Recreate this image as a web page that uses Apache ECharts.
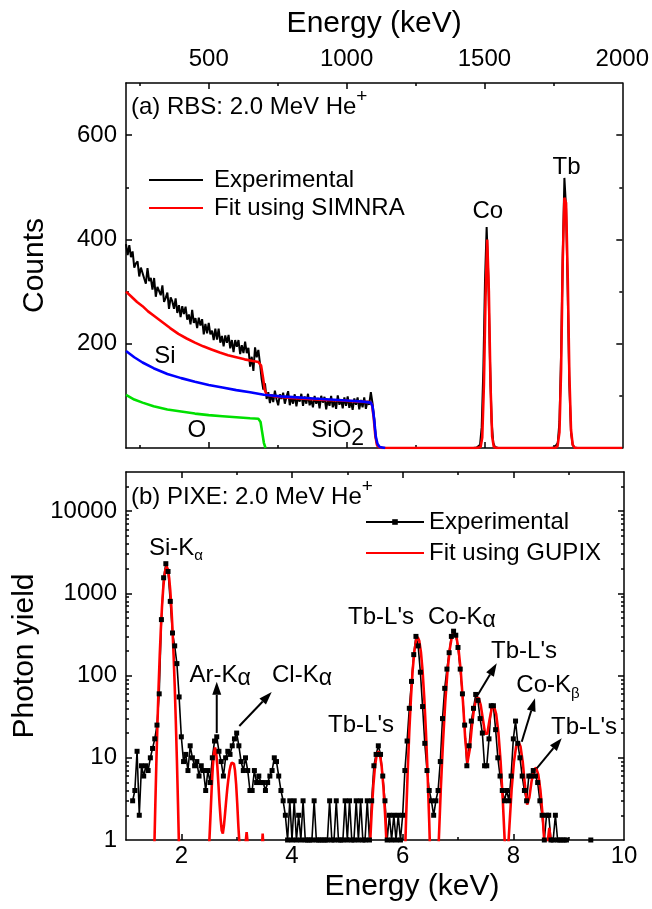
<!DOCTYPE html>
<html>
<head>
<meta charset="utf-8">
<script src="https://cdn.jsdelivr.net/npm/echarts@6.0.0/dist/echarts.min.js"></script>
<style>
  html, body { margin: 0; padding: 0; background: #fff; }
  #chart { width: 652px; height: 909px; }
</style>
</head>
<body>
<div id="chart"></div>
<script>
// ---------- RBS spectrum (2.0 MeV He+) ----------
// Experimental counts, one value per 6 keV step starting at 200 keV
const rbsStart = 200;
const rbsStep = 6;
const rbsCounts = [
  391,370,389,366,377,346,354,358,329,346,
  349,325,315,345,320,326,304,326,290,309,
  312,293,312,280,288,298,267,289,281,267,
  287,259,274,251,272,257,271,246,256,237,
  265,240,249,230,250,235,247,218,238,220,
  240,218,225,207,229,208,229,202,215,195,
  216,202,217,191,207,184,207,194,207,180,
  197,182,204,182,192,156,175,148,193,174,
  188,162,132,112,124,94,107,86,103,88,
  110,93,82,103,94,106,85,98,109,82,
  98,85,103,80,98,89,104,81,99,85,
  104,82,92,78,100,85,96,76,100,87,
  98,74,93,81,100,78,91,75,101,83,
  93,76,97,81,99,77,90,73,95,83,
  97,74,92,78,97,75,90,83,107,86,
  58,18,4,1,0,0,
  0,0,0,0,0,0,0,0,
  0,0,0,0,0,0,0,0,
  0,0,0,0,0,0,0,0,
  0,0,0,0,0,0,0,0,
  0,0,0,0,0,0,0,0,
  0,0,0,0,0,0,0,0,
  0,0,0,0,0,0,0,0,
  1,2,6,40,150,320,424,330,170,50,10,2,
  0,0,0,0,0,0,0,0,
  0,0,0,0,0,0,0,0,
  0,0,0,0,0,0,0,0,
  0,0,0,0,0,0,0,0,
  0,0,0,
  1,3,10,50,180,370,518,460,300,120,30,6,1,
  0,0,0,0,0,0,0,0,
  0,0,0,0,0,0,0,0,
  0,0,0,0,0,0,0,0,
  0,0,0,0,0
];
// SIMNRA total fit [energy keV, counts]
const rbsFit = [
  [200,300],[220,290],[240,280],[260,272],[280,262],[300,254],[330,242],[360,230],
  [390,219],[420,210],[450,202],[480,195],[510,189],[540,183],[570,178],[600,174],
  [630,170],[660,167],[680,165],[690,158],[697,135],[703,112],[710,102],[740,99],
  [800,96],[860,94],[920,92],[980,91],[1040,89],[1085,88],[1092,84],[1098,60],
  [1104,25],[1110,6],[1118,1],[1130,0],[1470,0],[1486,2],[1492,20],[1498,120],
  [1504,290],[1510,400],[1516,300],[1522,120],[1528,22],[1534,2],[1545,0],[1755,0],
  [1765,3],[1772,30],[1778,150],[1784,360],[1790,480],[1796,470],[1802,330],[1808,140],
  [1814,35],[1820,6],[1828,0],[2000,0]
];
// Si partial spectrum [energy keV, counts]
const rbsSi = [
  [200,186],[230,174],[260,164],[300,153],[350,142],[400,134],[450,127],[500,121],
  [550,116],[600,111],[650,107],[700,102],[760,99],[820,97],[880,95],[940,93],
  [1000,91],[1060,89],[1088,87],[1094,80],[1100,55],[1106,22],[1112,8],[1120,2],[1140,0]
];
// O partial spectrum [energy keV, counts]
const rbsO = [
  [200,102],[230,93],[260,87],[300,80],[350,74],[400,70],[450,66],[500,63],
  [550,61],[600,59],[650,57],[680,56],[688,50],[694,30],[700,10],[706,0]
];

// ---------- PIXE spectrum ----------
// Experimental photon yield, one value per 0.04 keV step starting at 1.12 keV
const pixeStart = 1.12;
const pixeStep = 0.04;
const pixeYield = [
  3,4,12,2,8,6,8,7,10,13,
  17,25,60,480,1550,2300,1850,800,330,230,
  140,55,18,9,11,7,14,10,8,9,
  6,8,7,4,7,5,10,16,18,12,
  9,6,10,12,11,14,17,20,14,9,
  7,10,7,4,4,7,5,6,5,5,
  4,5,6,7,10,9,6,4,3,2,
  1,3,1,3,1,2,1,3,1,1,
  1,1,3,1,1,1,1,1,1,3,
  1,1,3,1,1,1,3,1,3,1,
  1,3,1,3,1,1,3,1,3,8,
  11,14,11,6,3,1,2,1,2,1,
  2,1,2,7,16,40,85,180,300,230,
  110,42,15,7,4,3,2,3,4,9,
  30,70,120,190,300,347,310,220,120,60,
  25,8,14,28,40,59,50,30,20,8,
  8,17,43,43,22,10,6,4,3,4,
  3,6,17,28,15,10,6,4,3,6,
  6,7,6,5,3,2,1,2,2,1,
  1,2,1,1,1,1,1,null,null,null,
  null,null,null,null,null,null,null,1
];
// GUPIX fit [energy keV, photon yield]
const pixeFit = [
  [1.46,0.2],[1.51,0.7],[1.53,2.7],[1.55,9.4],[1.57,28],[1.59,76],[1.61,179],[1.63,371],
  [1.65,678],[1.67,1091],[1.69,1546],[1.71,1930],[1.735,2130],[1.76,1930],[1.78,1546],
  [1.80,1091],[1.82,678],[1.84,371],[1.86,179],[1.88,76],[1.90,28],[1.92,9.4],[1.94,2.7],
  [1.96,0.7],[2.00,0.2],
  [2.46,0.2],[2.49,0.6],[2.51,1.1],[2.53,2.2],[2.55,4.5],[2.57,8],[2.59,11.5],[2.61,13.3],
  [2.63,11.5],[2.65,8],[2.67,4.8],[2.69,2.8],[2.71,1.8],[2.73,1.3],[2.75,1.2],[2.77,1.5],
  [2.79,2.1],[2.81,3],[2.83,4.2],[2.85,5.5],[2.87,6.9],[2.89,8],[2.91,8.7],[2.93,8.9],
  [2.95,8.5],[2.97,7],[2.99,4.8],[3.01,2.8],[3.03,1.5],[3.05,0.9],[3.08,0.5],[3.13,0.5],
  [3.16,0.9],[3.18,1.25],[3.20,0.9],[3.24,0.5],[3.44,0.5],[3.47,1.2],[3.50,0.5],[3.60,0.2],
  [5.30,0.2],[5.38,0.27],[5.41,0.86],[5.44,2.2],[5.47,4.6],[5.50,7.9],[5.53,10.9],[5.56,12],
  [5.59,10.9],[5.62,7.9],[5.65,4.6],[5.68,2.2],[5.71,0.86],[5.74,0.27],[5.90,0.1],
  [6.03,0.34],[6.06,1.66],[6.09,6.6],[6.12,21],[6.15,54],[6.18,114],[6.21,193],[6.24,265],
  [6.27,295],[6.30,265],[6.33,193],[6.36,114],[6.39,54],[6.42,21],[6.45,6.6],[6.48,1.66],
  [6.51,0.34],[6.56,0.1],
  [6.61,0.14],[6.65,0.88],[6.69,4.3],[6.73,16],[6.77,48],[6.81,113],[6.85,208],[6.89,300],
  [6.93,339],[6.97,300],[7.01,208],[7.05,113],[7.09,48],[7.13,17.3],[7.17,8.7],[7.21,12.4],
  [7.25,24],[7.29,40],[7.33,52],[7.37,54],[7.41,44],[7.45,29.4],[7.49,19.6],[7.53,19.7],
  [7.57,29],[7.61,39.8],[7.65,42.6],[7.69,34],[7.73,20.2],[7.77,9],[7.81,3],[7.85,0.8],
  [7.89,0.53],[7.93,1.5],[7.97,4.2],[8.01,8.8],[8.05,13.7],[8.09,15.8],[8.13,13.7],[8.17,8.9],
  [8.21,4.6],[8.25,2.7],[8.29,3.3],[8.33,5.2],[8.37,7.1],[8.41,7.6],[8.45,6.3],[8.49,4],
  [8.53,1.95],[8.57,0.74],[8.61,0.8],[8.65,1.4],[8.69,0.8],[8.73,0.2]
];

// ---------- axis ticks and labels ----------
const rbsMajorTicks = [500, 1000, 1500];
const rbsMinorTicks = [250, 750, 1250, 1750];
const rbsEnergyLabels = [500, 1000, 1500, 2000];
const countMajorTicks = [200, 400, 600];
const countMinorTicks = [100, 300, 500];
const countLabels = [200, 400, 600];
const pixeMajorTicks = [2, 4, 6, 8];
const pixeMinorTicks = [3, 5, 7, 9];
const pixeEnergyLabels = [2, 4, 6, 8, 10];
const yieldMajorTicks = [10, 100, 1000, 10000];
const yieldMinorTicks = [2,3,4,5,6,7,8,9, 20,30,40,50,60,70,80,90,
  200,300,400,500,600,700,800,900, 2000,3000,4000,5000,6000,7000,8000,9000, 20000];
const yieldLabels = [1, 10, 100, 1000, 10000];

const legendText = {
  rbsExp: 'Experimental', rbsFit: 'Fit using SIMNRA',
  pixeExp: 'Experimental', pixeFit: 'Fit using GUPIX'
};

// ---------- styling ----------
const FONT = "'Liberation Sans', Arial, Helvetica, sans-serif";
const TICK_FS = 24, TITLE_FS = 30, NOTE_FS = 24;
const INK = '#000';
const frameLine = { color: INK, width: 1.5 };

function axis(opts) {
  return Object.assign({
    type: 'value',
    splitLine: { show: false },
    axisLine: { show: false, onZero: false },
    axisLabel: { show: false },
    axisTick: { show: false }
  }, opts);
}
function ticks(values, len) {
  return { show: true, inside: true, length: len, customValues: values, lineStyle: { color: INK, width: 1.5 } };
}
function labels(values, margin) {
  return {
    show: true, customValues: values, margin: margin,
    fontSize: TICK_FS, fontFamily: FONT, color: INK,
    formatter: v => String(Math.round(v))
  };
}
const lineOn = { show: true, onZero: false, lineStyle: frameLine };
const titleStyle = { fontSize: TITLE_FS, fontFamily: FONT, color: INK };

const xAxis = [
  // top panel: energy scale (keV)
  axis({ gridIndex: 0, position: 'bottom', min: 200, max: 2000, axisLine: lineOn, axisTick: ticks(rbsMajorTicks, 6) }),
  axis({ gridIndex: 0, position: 'bottom', min: 200, max: 2000, axisTick: ticks(rbsMinorTicks, 3) }),
  axis({ gridIndex: 0, position: 'top', min: 200, max: 2000, axisLine: lineOn, axisTick: ticks(rbsMajorTicks, 6),
         axisLabel: labels(rbsEnergyLabels, 12),
         name: 'Energy (keV)', nameLocation: 'middle', nameGap: 44, nameTextStyle: titleStyle }),
  axis({ gridIndex: 0, position: 'top', min: 200, max: 2000, axisTick: ticks(rbsMinorTicks, 3) }),
  // bottom panel: X-ray energy (keV)
  axis({ gridIndex: 1, position: 'bottom', min: 1, max: 10, axisLine: lineOn, axisTick: ticks(pixeMajorTicks, 6),
         axisLabel: labels(pixeEnergyLabels, 4),
         name: 'Energy (keV)', nameLocation: 'middle', nameGap: 32,
         nameTextStyle: Object.assign({ padding: [0, 0, 0, 74] }, titleStyle) }),
  axis({ gridIndex: 1, position: 'bottom', min: 1, max: 10, axisTick: ticks(pixeMinorTicks, 3) }),
  axis({ gridIndex: 1, position: 'top', min: 1, max: 10, axisLine: lineOn, axisTick: ticks(pixeMajorTicks, 6) }),
  axis({ gridIndex: 1, position: 'top', min: 1, max: 10, axisTick: ticks(pixeMinorTicks, 3) })
];

const yAxis = [
  axis({ gridIndex: 0, position: 'left', min: 0, max: 700, axisLine: lineOn, axisTick: ticks(countMajorTicks, 6),
         axisLabel: labels(countLabels, 9),
         name: 'Counts', nameLocation: 'middle', nameGap: 76, nameTextStyle: titleStyle }),
  axis({ gridIndex: 0, position: 'left', min: 0, max: 700, axisTick: ticks(countMinorTicks, 3) }),
  axis({ gridIndex: 0, position: 'right', min: 0, max: 700, axisLine: lineOn, axisTick: ticks(countMajorTicks, 6) }),
  axis({ gridIndex: 0, position: 'right', min: 0, max: 700, axisTick: ticks(countMinorTicks, 3) }),
  axis({ gridIndex: 1, type: 'log', logBase: 10, position: 'left', min: 1, max: 30000, axisLine: lineOn,
         axisTick: ticks(yieldMajorTicks, 6), axisLabel: labels(yieldLabels, 9),
         name: 'Photon yield', nameLocation: 'middle', nameGap: 76, nameTextStyle: titleStyle }),
  axis({ gridIndex: 1, type: 'log', logBase: 10, position: 'left', min: 1, max: 30000, axisTick: ticks(yieldMinorTicks, 3) }),
  axis({ gridIndex: 1, type: 'log', logBase: 10, position: 'right', min: 1, max: 30000, axisLine: lineOn, axisTick: ticks(yieldMajorTicks, 6) }),
  axis({ gridIndex: 1, type: 'log', logBase: 10, position: 'right', min: 1, max: 30000, axisTick: ticks(yieldMinorTicks, 3) })
];

const RED = '#ff0000', BLUE = '#0000ff', GREEN = '#00e000';

const series = [
  { type: 'line', name: 'rbsExp', xAxisIndex: 0, yAxisIndex: 0,
    data: rbsCounts.map((c, i) => [rbsStart + i * rbsStep, c]),
    symbol: 'none', lineStyle: { color: INK, width: 2 }, itemStyle: { color: INK } },
  { type: 'line', name: 'rbsFit', xAxisIndex: 0, yAxisIndex: 0, data: rbsFit,
    symbol: 'none', lineStyle: { color: RED, width: 2.6 }, itemStyle: { color: RED } },
  { type: 'line', name: 'rbsSi', xAxisIndex: 0, yAxisIndex: 0, data: rbsSi,
    symbol: 'none', lineStyle: { color: BLUE, width: 2.6 }, itemStyle: { color: BLUE } },
  { type: 'line', name: 'rbsO', xAxisIndex: 0, yAxisIndex: 0, data: rbsO,
    symbol: 'none', lineStyle: { color: GREEN, width: 2.6 }, itemStyle: { color: GREEN } },
  { type: 'line', name: 'pixeExp', xAxisIndex: 4, yAxisIndex: 4,
    data: pixeYield.map((v, i) => [+(pixeStart + i * pixeStep).toFixed(2), v]),
    connectNulls: false, symbol: 'rect', symbolSize: 5, showSymbol: true,
    lineStyle: { color: INK, width: 1.6 }, itemStyle: { color: INK } },
  { type: 'line', name: 'pixeFit', xAxisIndex: 4, yAxisIndex: 4, data: pixeFit,
    symbol: 'none', lineStyle: { color: RED, width: 2.6 }, itemStyle: { color: RED } }
];

const legendBase = {
  orient: 'vertical', selectedMode: false, itemHeight: 7, padding: 0,
  formatter: n => legendText[n]
};
const legendTextStyle = { fontSize: NOTE_FS, fontFamily: FONT, color: INK, lineHeight: 28 };
const lineOnlyIcon = { opacity: 0 };

const chart = echarts.init(document.getElementById('chart'), null, { renderer: 'canvas' });
chart.setOption({
  animation: false,
  backgroundColor: '#fff',
  grid: [
    { left: 126, top: 83, width: 498, height: 365 },
    { left: 126, top: 472, width: 498, height: 368 }
  ],
  xAxis: xAxis,
  yAxis: yAxis,
  legend: [
    Object.assign({
      data: [{ name: 'rbsExp', itemStyle: lineOnlyIcon }, { name: 'rbsFit', itemStyle: lineOnlyIcon }],
      left: 148, top: 166, itemGap: 0, itemWidth: 54,
      textStyle: Object.assign({ padding: [0, 0, 0, 6] }, legendTextStyle) }, legendBase),
    Object.assign({
      data: [{ name: 'pixeExp' }, { name: 'pixeFit', itemStyle: lineOnlyIcon }],
      left: 365, top: 508, itemGap: 3, itemWidth: 58,
      textStyle: legendTextStyle }, legendBase)
  ],
  series: series
});

// ---------- annotations, anchored in data coordinates ----------
// parts: text runs laid out left to right; dy lowers/raises a run (sub/superscripts)
const notes = [
  { panel: 0, at: [218, 654], align: 'left', parts: [{ t: '(a) RBS: 2.0 MeV He', s: NOTE_FS }, { t: '+', s: 19, dy: -10 }] },
  { panel: 0, at: [1512, 453], parts: [{ t: 'Co', s: NOTE_FS }] },
  { panel: 0, at: [1798, 539], parts: [{ t: 'Tb', s: NOTE_FS }] },
  { panel: 0, at: [341, 176], parts: [{ t: 'Si', s: NOTE_FS }] },
  { panel: 0, at: [457, 33], parts: [{ t: 'O', s: NOTE_FS }] },
  { panel: 0, at: [872, 34], align: 'left', parts: [{ t: 'SiO', s: NOTE_FS }, { t: '2', s: 23, dy: 8 }] },

  { panel: 1, at: [1.09, 14890], align: 'left', parts: [{ t: '(b) PIXE: 2.0 MeV He', s: NOTE_FS }, { t: '+', s: 19, dy: -10 }] },
  { panel: 1, at: [1.904, 3566], parts: [{ t: 'Si-K', s: NOTE_FS }, { t: 'α', s: 15, dy: 8 }] },
  { panel: 1, at: [2.70, 102], parts: [{ t: 'Ar-K', s: NOTE_FS }, { t: 'α', s: 23, dy: 4 }] },
  { panel: 1, at: [4.18, 102], parts: [{ t: 'Cl-K', s: NOTE_FS }, { t: 'α', s: 23, dy: 4 }] },
  { panel: 1, at: [5.247, 25], parts: [{ t: "Tb-L's", s: NOTE_FS }] },
  { panel: 1, at: [5.609, 516], parts: [{ t: "Tb-L's", s: NOTE_FS }] },
  { panel: 1, at: [7.07, 516], parts: [{ t: 'Co-K', s: NOTE_FS }, { t: 'α', s: 23, dy: 4 }] },
  { panel: 1, at: [8.193, 199], parts: [{ t: "Tb-L's", s: NOTE_FS }] },
  { panel: 1, at: [8.627, 77], parts: [{ t: 'Co-K', s: NOTE_FS }, { t: 'β', s: 15, dy: 9 }] },
  { panel: 1, at: [9.278, 23.7], parts: [{ t: "Tb-L's", s: NOTE_FS }] }
];
const arrows = [
  { panel: 1, from: [2.64, 20], to: [2.64, 84] },
  { panel: 1, from: [3.048, 24.4], to: [3.633, 63] },
  { panel: 1, from: [7.356, 58], to: [7.70, 141] },
  { panel: 1, from: [8.152, 15.7], to: [8.392, 53] },
  { panel: 1, from: [8.423, 7.45], to: [8.875, 17.3] }
];

const finders = [{ xAxisIndex: 0, yAxisIndex: 0 }, { xAxisIndex: 4, yAxisIndex: 4 }];
const toPx = (panel, pt) => chart.convertToPixel(finders[panel], pt);
const measureCtx = document.createElement('canvas').getContext('2d');
function textWidth(t, s) {
  measureCtx.font = s + 'px ' + FONT;
  return measureCtx.measureText(t).width;
}

const elements = [];
notes.forEach(n => {
  const p = toPx(n.panel, n.at);
  const widths = n.parts.map(r => textWidth(r.t, r.s));
  const total = widths.reduce((a, b) => a + b, 0);
  let x = n.align === 'left' ? p[0] : p[0] - total / 2;
  n.parts.forEach((r, i) => {
    elements.push({
      type: 'text', x: x, y: p[1] + (r.dy || 0), z: 100, silent: true,
      style: { text: r.t, fontSize: r.s, fontFamily: FONT, fill: INK,
               align: 'left', verticalAlign: 'middle', textAlign: 'left', textVerticalAlign: 'middle' }
    });
    x += widths[i];
  });
});
arrows.forEach(a => {
  const p0 = toPx(a.panel, a.from), p1 = toPx(a.panel, a.to);
  const dx = p1[0] - p0[0], dy = p1[1] - p0[1], L = Math.hypot(dx, dy);
  const ux = dx / L, uy = dy / L, headL = 13, headW = 4.5;
  const bx = p1[0] - ux * headL, by = p1[1] - uy * headL;
  elements.push({ type: 'line', z: 100, silent: true,
    shape: { x1: p0[0], y1: p0[1], x2: bx, y2: by }, style: { stroke: INK, lineWidth: 2 } });
  elements.push({ type: 'polygon', z: 100, silent: true,
    shape: { points: [[p1[0], p1[1]], [bx - uy * headW, by + ux * headW], [bx + uy * headW, by - ux * headW]] },
    style: { fill: INK } });
});
chart.setOption({ graphic: { elements: elements } });
</script>
</body>
</html>
